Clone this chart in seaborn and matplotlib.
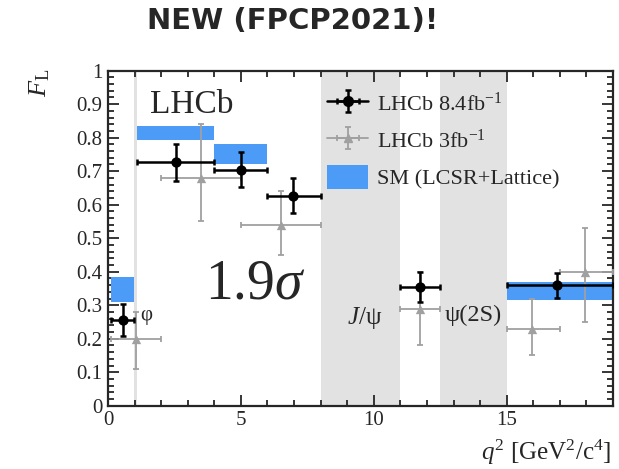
import numpy as np
import pandas as pd
import matplotlib
matplotlib.use("Agg")
import matplotlib.pyplot as plt
from matplotlib.ticker import MultipleLocator, FuncFormatter
from matplotlib.patches import Patch
from matplotlib.lines import Line2D
import seaborn as sns

# LHCb 8.4 fb^-1 (new) measurement of F_L in q^2 bins
new_lo = [0.1, 1.1, 4.0, 6.0, 11.0, 15.0]
new_hi = [0.98, 4.0, 6.0, 8.0, 12.5, 19.0]
new_x = [0.55, 2.56, 5.02, 6.97, 11.75, 16.9]
new_fl = [0.255, 0.727, 0.704, 0.626, 0.355, 0.360]
new_up = [0.050, 0.053, 0.052, 0.055, 0.045, 0.037]
new_dn = [0.048, 0.055, 0.052, 0.052, 0.045, 0.038]

# LHCb 3 fb^-1 (previous) measurement
old_lo = [0.1, 2.0, 5.0, 11.0, 15.0, 17.0]
old_hi = [2.0, 5.0, 8.0, 12.5, 17.0, 19.0]
old_x = [1.05, 3.5, 6.5, 11.73, 15.96, 17.96]
old_fl = [0.20, 0.68, 0.54, 0.29, 0.23, 0.40]
old_up = [0.08, 0.16, 0.10, 0.11, 0.09, 0.13]
old_dn = [0.09, 0.13, 0.09, 0.11, 0.08, 0.15]

# SM prediction (LCSR + Lattice) bands
sm_lo = [0.1, 1.1, 4.0, 15.0]
sm_hi = [0.98, 4.0, 6.0, 19.0]
sm_min = [0.31, 0.793, 0.721, 0.316]
sm_max = [0.385, 0.835, 0.78, 0.37]

# vetoed phi / charmonium regions
veto_lo = [0.98, 8.0, 12.5]
veto_hi = [1.1, 11.0, 15.0]

new_df = pd.DataFrame({"q2": new_x, "FL": new_fl})
old_df = pd.DataFrame({"q2": old_x, "FL": old_fl})

sns.set_theme(style="ticks")
plt.rcParams["font.family"] = ["Liberation Serif", "DejaVu Serif"]
plt.rcParams["mathtext.fontset"] = "custom"
plt.rcParams["mathtext.rm"] = "Liberation Serif"
plt.rcParams["mathtext.it"] = "Liberation Serif:italic"
plt.rcParams["mathtext.bf"] = "Liberation Serif:bold"

fig = plt.figure(figsize=(6.19, 4.69), dpi=100)
ax = fig.add_axes([108 / 619, 1 - 405.7 / 469, (613 - 108) / 619, (405.7 - 70.7) / 469])

blue = "#4C9BF6"
grey_band = "#E2E2E2"
grey_pt = "#A0A0A0"

for lo, hi in zip(veto_lo, veto_hi):
    ax.axvspan(lo, hi, color=grey_band, lw=0, zorder=0)

for lo, hi, a, b in zip(sm_lo, sm_hi, sm_min, sm_max):
    ax.fill_between([lo, hi], [a, a], [b, b], color=blue, lw=0, zorder=1)

# previous result
old_xerr = [np.array(old_x) - np.array(old_lo), np.array(old_hi) - np.array(old_x)]
old_err = ax.errorbar(old_x, old_fl, xerr=old_xerr, yerr=[old_dn, old_up], fmt="none",
                      ecolor=grey_pt, elinewidth=1.3, capsize=2, capthick=1.3, zorder=3)
sns.scatterplot(data=old_df, x="q2", y="FL", marker="^", s=45, color=grey_pt,
                edgecolor=grey_pt, linewidth=0, ax=ax, zorder=4)

# new result
new_xerr = [np.array(new_x) - np.array(new_lo), np.array(new_hi) - np.array(new_x)]
new_err = ax.errorbar(new_x, new_fl, xerr=new_xerr, yerr=[new_dn, new_up], fmt="none",
                      ecolor="black", elinewidth=1.8, capsize=2, capthick=1.8, zorder=5)
sns.scatterplot(data=new_df, x="q2", y="FL", marker="o", s=55, color="black",
                edgecolor="black", linewidth=0, ax=ax, zorder=6)

ax.set_xlim(0, 19)
ax.set_ylim(0, 1)
ax.set_xlabel("")
ax.set_ylabel("")

ax.xaxis.set_major_locator(MultipleLocator(5))
ax.xaxis.set_minor_locator(MultipleLocator(1))
ax.yaxis.set_major_locator(MultipleLocator(0.1))
ax.yaxis.set_minor_locator(MultipleLocator(0.02))


def fmt_y(v, pos):
    if abs(v) < 1e-9 or abs(v - 1) < 1e-9:
        return f"{int(round(v))}"
    return f"{v:.1f}"


ax.yaxis.set_major_formatter(FuncFormatter(fmt_y))
ax.tick_params(which="both", direction="in", top=True, right=True, width=1.3, labelsize=15, pad=4)
ax.tick_params(which="major", length=8)
ax.tick_params(which="minor", length=4.5)
for s in ax.spines.values():
    s.set_linewidth(1.6)
    s.set_visible(True)

ax.text(1.58, 0.898, "LHCb", fontsize=24, va="center", ha="left")
ax.text(5.53, 0.363, r"$1.9\sigma$", fontsize=40, va="center", ha="center")
ax.text(1.2, 0.27, "φ", fontsize=15, va="center", ha="left")
ax.text(9.66, 0.262, r"$J/$ψ", fontsize=18, va="center", ha="center")
ax.text(13.76, 0.27, "ψ(2S)", fontsize=17.5, va="center", ha="center")

fig.text(40 / 619, 1 - 83 / 469, r"$F_{\rm L}$", rotation=90, fontsize=19, ha="center", va="center")
fig.text(611 / 619, 1 - 452 / 469, r"$q^2$ [GeV$^2$/c$^4$]", fontsize=18, ha="right", va="center")
fig.text(293 / 619, 1 - 21 / 469, "NEW (FPCP2021)!", fontsize=21, fontweight="bold",
         family=["DejaVu Sans"], ha="center", va="center")

# legend handles: full-width line with marker, overlaid with the error bars
new_mk = Line2D([], [], color="black", marker="o", ms=7, lw=1.8)
old_mk = Line2D([], [], color=grey_pt, marker="^", ms=6, lw=1.3)
handles = [
    (new_err, new_mk),
    (old_err, old_mk),
    Patch(facecolor=blue, edgecolor="none"),
]
labels = [r"LHCb 8.4fb$^{-1}$", r"LHCb 3fb$^{-1}$", "SM (LCSR+Lattice)"]
ax.legend(handles, labels, loc="upper left", bbox_to_anchor=(316 / 619, 1 - 80 / 469),
          bbox_transform=fig.transFigure, frameon=False, fontsize=16, borderpad=0,
          handlelength=1.85, handleheight=1.3, handletextpad=0.4, labelspacing=0.55)

fig.savefig("out.png", dpi=100)
